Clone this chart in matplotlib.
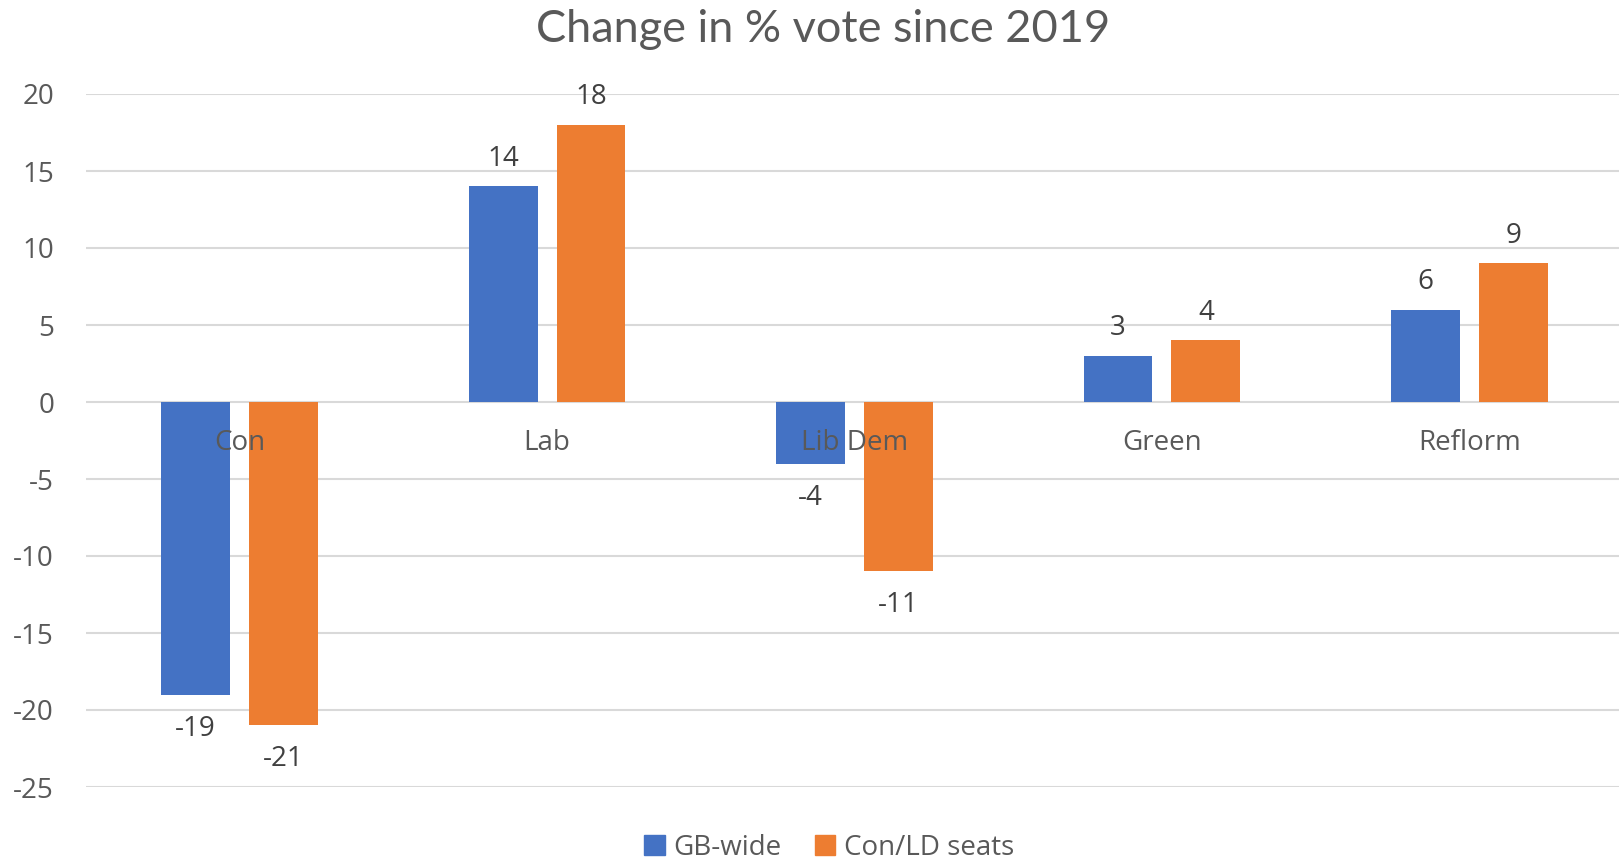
import matplotlib
matplotlib.use("Agg")
import matplotlib.pyplot as plt
import numpy as np
from matplotlib.patches import Patch

categories = ["Con", "Lab", "Lib Dem", "Green", "Reflorm"]
gb_wide = [-19, 14, -4, 3, 6]
conld_seats = [-21, 18, -11, 4, 9]
series_names = ["GB-wide", "Con/LD seats"]
yticks = [20, 15, 10, 5, 0, -5, -10, -15, -20, -25]

BLUE = "#4472C4"
ORANGE = "#ED7D31"
TXT = "#595959"
GRID = "#D9D9D9"

plt.rcParams['font.family'] = ['Open Sans', 'DejaVu Sans']
FS = 20

fig = plt.figure(figsize=(16.19, 8.59), dpi=100)
ax = fig.add_axes([86/1619, 1-787/859, 1537/1619, (787-94)/859])

x = np.arange(len(categories))
w = 0.224
off = 0.143
b1 = ax.bar(x - off, gb_wide, w, color=BLUE, zorder=2)
b2 = ax.bar(x + off, conld_seats, w, color=ORANGE, zorder=2)

for bars, vals in ((b1, gb_wide), (b2, conld_seats)):
    for r, v in zip(bars, vals):
        dy = 20 if v >= 0 else -24.5
        ax.annotate(f"{v}", (r.get_x() + r.get_width()/2, v), xytext=(0, dy),
                    textcoords="offset points", ha="center", va="center",
                    fontsize=FS, color="#404040", zorder=4)

for xi, c in zip(x, categories):
    ax.annotate(c, (xi, 0), xytext=(0, -29.5), textcoords="offset points",
                ha="center", va="center", fontsize=FS, color=TXT, zorder=5)

ax.set_xlim(-0.5, len(categories) - 0.5)
ax.set_ylim(-25, 20)
ax.set_yticks(yticks)
ax.set_yticklabels([str(t) for t in yticks])
ax.tick_params(axis='y', length=0, labelsize=FS, labelcolor=TXT, pad=23)
ax.set_xticks([])
for s in ax.spines.values():
    s.set_visible(False)
ax.grid(axis='y', color=GRID, linewidth=1.5, zorder=0)
ax.set_axisbelow(True)

fig.text(823/1619, 1-29/859, "Change in % vote since 2019", ha="center", va="center",
         fontsize=32.5, color=TXT, family=['Lato', 'DejaVu Sans'])

handles = [Patch(color=BLUE), Patch(color=ORANGE)]
fig.legend(handles, series_names, loc="center", bbox_to_anchor=(829/1619, 1-848/859),
           ncol=2, frameon=False, fontsize=FS, labelcolor=TXT,
           handlelength=0.75, handleheight=0.75, handletextpad=0.3, columnspacing=1.2)

fig.savefig("out.png", dpi=100)
